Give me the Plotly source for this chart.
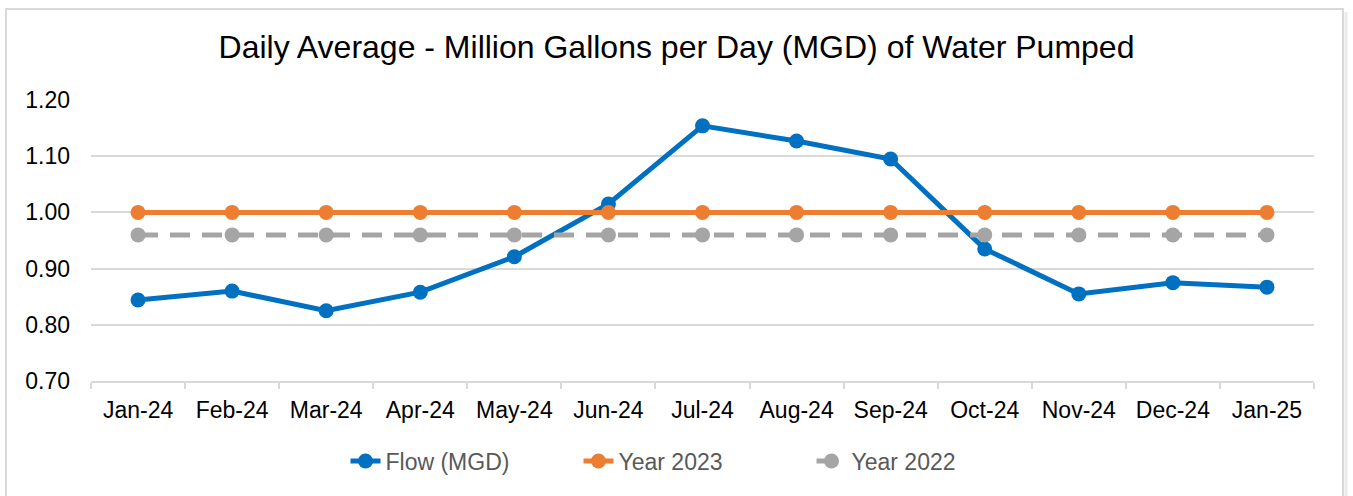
import plotly.graph_objects as go

months = ["Jan-24", "Feb-24", "Mar-24", "Apr-24", "May-24", "Jun-24", "Jul-24",
          "Aug-24", "Sep-24", "Oct-24", "Nov-24", "Dec-24", "Jan-25"]
flow_mgd = [0.844, 0.860, 0.825, 0.858, 0.921, 1.015, 1.154, 1.127, 1.095, 0.935, 0.855, 0.875, 0.867]
year_2023 = [1.00] * 13
year_2022 = [0.96] * 13
y_ticks = [0.70, 0.80, 0.90, 1.00, 1.10, 1.20]

BLUE = "#0070C0"
ORANGE = "#ED7D31"
GRAY = "#A5A5A5"
GRID = "#D9D9D9"

fig = go.Figure()
fig.add_trace(go.Scatter(x=months, y=flow_mgd, name="Flow (MGD)", mode="lines+markers",
                         line=dict(color=BLUE, width=5), marker=dict(size=15, color=BLUE)))
fig.add_trace(go.Scatter(x=months, y=year_2023, name="Year 2023", mode="lines+markers",
                         line=dict(color=ORANGE, width=5), marker=dict(size=15, color=ORANGE)))
fig.add_trace(go.Scatter(x=months, y=year_2022, name="Year 2022", mode="lines+markers",
                         line=dict(color=GRAY, width=5, dash="20px,12px"), marker=dict(size=15, color=GRAY)))

# plot area: x 91..1314, y 100..381
def px_x(p):
    return (p - 91) / 1223.0

def px_y(p):
    return (381 - p) / 281.0

fig.update_layout(
    width=1353, height=496,
    margin=dict(l=91, r=39, t=100, b=115),
    paper_bgcolor="white", plot_bgcolor="white",
    font=dict(family="Liberation Sans, Arial, sans-serif", color="#000000"),
    title=dict(text="Daily Average - Million Gallons per Day (MGD) of Water Pumped",
               x=0.5, xref="container", y=1 - 47 / 496, yref="container",
               xanchor="center", yanchor="middle",
               font=dict(size=32, color="#000000", family="Liberation Sans, Arial, sans-serif")),
    showlegend=True,
    legend=dict(orientation="h", x=px_x(695), y=px_y(461), xanchor="center", yanchor="middle",
                font=dict(size=23, color="#595959", family="Liberation Sans, Arial, sans-serif"),
                bgcolor="rgba(0,0,0,0)", entrywidthmode="pixels", entrywidth=188),
    xaxis=dict(type="category", range=[-0.5, 12.5], showgrid=False, showline=True,
               linecolor=GRID, linewidth=1.5,
               ticks="outside", tickson="boundaries", ticklen=6, tickcolor=GRID, tickwidth=1.5,
               tickfont=dict(size=23, color="#000000"), ticklabelstandoff=8, zeroline=False),
    yaxis=dict(range=[0.70, 1.20], tickvals=y_ticks, tickformat=".2f", showgrid=True,
               gridcolor=GRID, gridwidth=1.5, zeroline=False, showline=False,
               tickfont=dict(size=23, color="#000000"), ticklabelstandoff=20),
    shapes=[
        dict(type="rect", xref="paper", yref="paper",
             x0=px_x(6), x1=px_x(1343), y0=px_y(505), y1=px_y(9),
             line=dict(color="#D9D9D9", width=2), layer="below"),
        dict(type="line", xref="paper", yref="paper",
             x0=px_x(1346), x1=px_x(1346), y0=px_y(505), y1=px_y(12),
             line=dict(color="rgba(0,0,0,0.08)", width=3), layer="below"),
    ],
)

fig.write_html("out.html",
               config={"displayModeBar": False},
               post_script="document.body.style.margin='0';document.body.style.padding='0';"
                           "document.body.style.overflow='hidden';")
